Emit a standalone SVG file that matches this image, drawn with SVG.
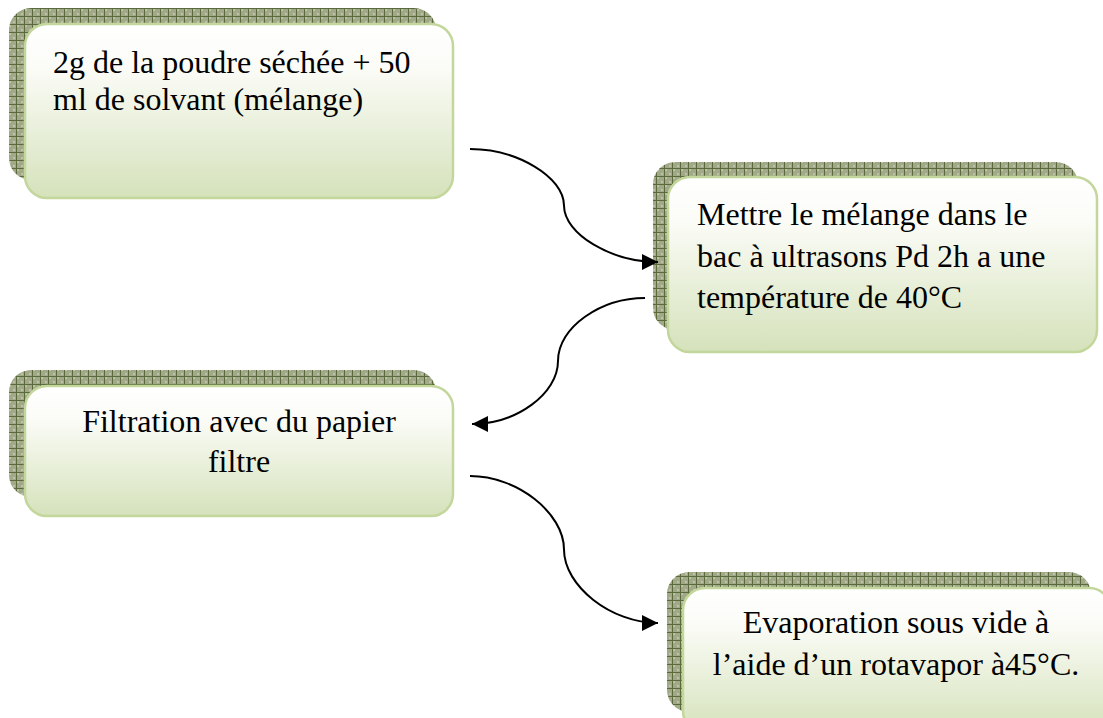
<svg xmlns="http://www.w3.org/2000/svg" width="1103" height="718" viewBox="0 0 1103 718">
<defs>
<pattern id="grid" width="8" height="8" patternUnits="userSpaceOnUse">
<rect width="8" height="8" fill="#a1a988"/>
<rect x="1" y="1" width="2" height="2" fill="#bcc2a8"/>
<rect x="5" y="5" width="2" height="2" fill="#bcc2a8"/>
<rect x="0" y="0" width="8" height="1" fill="#5a6a3a"/>
<rect x="0" y="0" width="1" height="8" fill="#5a6a3a"/>
</pattern>
<linearGradient id="fillg" x1="0" y1="0" x2="0" y2="1">
<stop offset="0" stop-color="#ffffff"/>
<stop offset="0.25" stop-color="#fbfcf7"/>
<stop offset="1" stop-color="#d5e2bb"/>
</linearGradient>
<marker id="arr" viewBox="0 0 10 10" refX="10" refY="5" markerWidth="9" markerHeight="8" markerUnits="strokeWidth" orient="auto">
<path d="M0,0 L10,5 L0,10 Z" fill="#000"/>
</marker>
</defs>
<style>
.sh{fill:url(#grid);}
.box{fill:url(#fillg);stroke:#c3d69b;stroke-width:2.5;}
.t{font-family:"Liberation Serif","Times New Roman",serif;font-size:32px;fill:#000;}
.c{stroke:#000;stroke-width:2;fill:none;marker-end:url(#arr);}
</style>
<g id="node1">
<rect class="sh" x="9" y="8" width="427" height="172" rx="22"/>
<rect class="box" x="25" y="24" width="428" height="174" rx="22"/>
<text class="t" x="53" y="73">2g de la poudre séchée + 50</text>
<text class="t" x="53" y="110">ml de solvant (mélange)</text>
</g>
<g id="node2">
<rect class="sh" x="653" y="162" width="425" height="168" rx="22"/>
<rect class="box" x="668" y="177" width="429" height="175" rx="22"/>
<text class="t" x="697" y="225">Mettre le mélange dans le</text>
<text class="t" x="697" y="267">bac à ultrasons Pd 2h a une</text>
<text class="t" x="697" y="308">température de 40°C</text>
</g>
<g id="node3">
<rect class="sh" x="9" y="370" width="427" height="127" rx="22"/>
<rect class="box" x="25" y="386" width="428" height="130" rx="22"/>
<text class="t" x="239" y="432" text-anchor="middle">Filtration avec du papier</text>
<text class="t" x="239" y="472" text-anchor="middle">filtre</text>
</g>
<g id="node4">
<rect class="sh" x="667" y="572" width="424" height="140" rx="22"/>
<rect class="box" x="683" y="588" width="428" height="145" rx="22"/>
<text class="t" x="896" y="633" text-anchor="middle">Evaporation sous vide à</text>
<text class="t" x="896" y="675" text-anchor="middle">l’aide d’un rotavapor à45°C.</text>
</g>
<g id="connectors">
<path class="c" d="M470,149 C517,149 564,177 564,205.5 C564,234 611,262 658,262"/>
<path class="c" d="M645,298 C601,298 558,327 558,361 C558,394 516,424 472,424"/>
<path class="c" d="M470,476 C517,476 564,513 564,549.5 C564,586 611,623 658,623"/>
</g>
</svg>
